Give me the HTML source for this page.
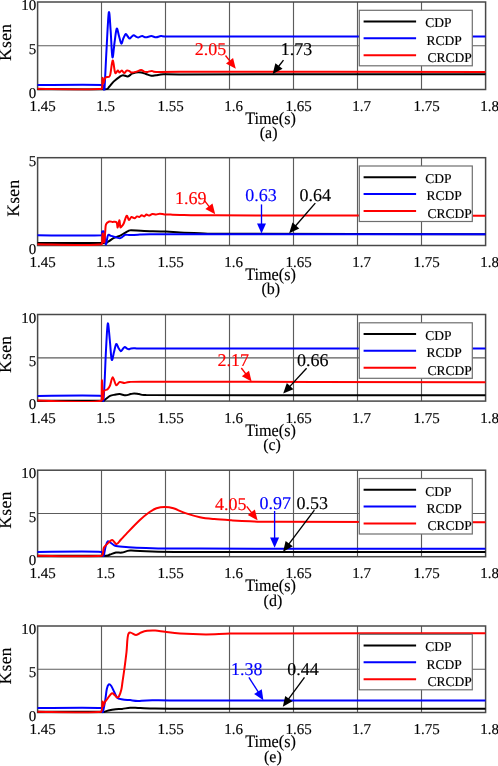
<!DOCTYPE html><html><head><meta charset="utf-8"><style>html,body{margin:0;padding:0;background:#fff;width:498px;height:766px;overflow:hidden}svg{display:block;will-change:transform}text{font-family:"Liberation Serif",serif;text-rendering:geometricPrecision;stroke:currentColor;stroke-width:0.15px}</style></head><body>
<svg width="498" height="766" viewBox="0 0 498 766">
<rect width="498" height="766" fill="#fff"/>
<defs><clipPath id="clipa"><rect x="37.00" y="0.00" width="449.00" height="90.50"/></clipPath></defs>
<g stroke="#5c5c5c" stroke-width="1.15"><line x1="101.50" y1="2.00" x2="101.50" y2="89.50"/><line x1="165.50" y1="2.00" x2="165.50" y2="89.50"/><line x1="229.50" y1="2.00" x2="229.50" y2="89.50"/><line x1="293.50" y1="2.00" x2="293.50" y2="89.50"/><line x1="357.50" y1="2.00" x2="357.50" y2="89.50"/><line x1="421.50" y1="2.00" x2="421.50" y2="89.50"/><line x1="37.50" y1="45.75" x2="485.50" y2="45.75"/></g>
<rect x="37.60" y="2.00" width="448.00" height="87.50" fill="none" stroke="#484848" stroke-width="1.5"/>
<g clip-path="url(#clipa)"><path d="M37.50,89.30 C48.83,89.30 93.58,89.68 105.50,89.30 C109.00,88.92 107.65,88.28 109.00,87.00 C110.35,85.72 111.83,83.30 113.60,81.60 C115.37,79.90 118.03,77.87 119.60,76.80 C121.17,75.73 121.63,75.27 123.00,75.20 C124.37,75.13 126.30,76.65 127.80,76.40 C129.30,76.15 130.68,74.35 132.00,73.70 C133.32,73.05 134.18,72.70 135.70,72.50 C137.22,72.30 139.40,72.25 141.10,72.50 C142.80,72.75 144.20,73.47 145.90,74.00 C147.60,74.53 149.60,75.50 151.30,75.70 C153.00,75.90 154.08,75.43 156.10,75.20 C158.12,74.97 159.42,74.43 163.40,74.30 C167.38,74.17 163.40,74.41 180.00,74.40 C233.68,74.39 434.58,74.28 485.50,74.25" fill="none" stroke="#000000" stroke-width="2.0" stroke-linejoin="round"/><path d="M37.50,85.00 C48.35,85.00 91.58,84.58 102.60,85.00 C103.60,85.42 103.28,86.90 103.60,87.50 C103.92,88.10 104.02,94.85 104.50,88.60 C104.98,82.35 105.78,62.68 106.50,50.00 C107.22,37.32 108.12,15.83 108.80,12.50 C109.48,9.17 110.00,22.53 110.60,30.00 C111.20,37.47 111.73,55.30 112.40,57.30 C113.07,59.30 113.88,46.78 114.60,42.00 C115.32,37.22 115.97,29.60 116.70,28.60 C117.43,27.60 118.23,33.50 119.00,36.00 C119.77,38.50 120.55,43.27 121.30,43.60 C122.05,43.93 122.75,39.60 123.50,38.00 C124.25,36.40 125.08,34.25 125.80,34.00 C126.52,33.75 127.15,35.73 127.80,36.50 C128.45,37.27 129.03,38.60 129.70,38.60 C130.37,38.60 131.12,37.05 131.80,36.50 C132.48,35.95 133.10,35.28 133.80,35.30 C134.50,35.32 135.27,36.23 136.00,36.60 C136.73,36.97 137.50,37.50 138.20,37.50 C138.90,37.50 139.52,36.85 140.20,36.60 C140.88,36.35 141.35,35.88 142.30,36.00 C143.25,36.12 144.40,37.28 145.90,37.30 C147.40,37.32 149.60,36.10 151.30,36.10 C153.00,36.10 154.48,37.30 156.10,37.30 C157.72,37.30 159.02,36.23 161.00,36.10 C162.98,35.97 161.00,36.43 168.00,36.50 C222.08,36.57 432.58,36.50 485.50,36.50" fill="none" stroke="#0000ff" stroke-width="2.0" stroke-linejoin="round"/><path d="M37.50,88.80 C48.25,88.80 91.15,90.60 102.00,88.80 C102.60,87.00 102.37,78.97 102.60,78.00 C102.83,77.03 103.07,82.80 103.40,83.00 C103.73,83.20 104.10,80.20 104.60,79.20 C105.10,78.20 105.50,77.62 106.40,77.00 C107.30,76.38 108.97,78.25 110.00,75.50 C111.03,72.75 111.80,61.17 112.60,60.50 C113.40,59.83 114.23,69.42 114.80,71.50 C115.37,73.58 115.50,73.17 116.00,73.00 C116.50,72.83 117.20,70.58 117.80,70.50 C118.40,70.42 118.93,72.52 119.60,72.50 C120.27,72.48 121.03,70.30 121.80,70.40 C122.57,70.50 123.40,73.05 124.20,73.10 C125.00,73.15 125.80,71.07 126.60,70.70 C127.40,70.33 128.20,70.60 129.00,70.90 C129.80,71.20 130.28,72.33 131.40,72.50 C132.52,72.67 134.08,72.30 135.70,71.90 C137.32,71.50 139.70,70.15 141.10,70.10 C142.50,70.05 143.00,71.30 144.10,71.60 C145.20,71.90 146.40,72.02 147.70,71.90 C149.00,71.78 150.50,70.90 151.90,70.90 C153.30,70.90 151.90,71.75 156.10,71.90 C160.78,72.05 156.10,71.80 180.00,71.80 C234.90,71.80 434.58,71.88 485.50,71.90" fill="none" stroke="#ff0000" stroke-width="2.0" stroke-linejoin="round"/></g>
<rect x="359.3" y="10.30" width="113" height="55.5" fill="#fff" stroke="#6e6e6e" stroke-width="1.2"/>
<line x1="363.6" y1="21.50" x2="416.1" y2="21.50" stroke="#000000" stroke-width="2"/>
<text x="425.30" y="27.35" font-size="13.5">CDP</text>
<line x1="363.6" y1="38.30" x2="416.1" y2="38.30" stroke="#0000ff" stroke-width="2"/>
<text x="426.60" y="44.70" font-size="13.5">RCDP</text>
<line x1="363.6" y1="55.20" x2="416.1" y2="55.20" stroke="#ff0000" stroke-width="2"/>
<text x="427.50" y="62.10" font-size="13.5">CRCDP</text>
<text x="194.68" y="54.90" font-size="18" fill="#ff0000" color="#ff0000">2.05</text>
<line x1="225.50" y1="55.50" x2="230.14" y2="61.45" stroke="#ff0000" stroke-width="1.35"/><polygon points="235.80,68.70 225.98,63.43 233.07,57.89" fill="#ff0000"/>
<text x="280.68" y="55.30" font-size="18" fill="#000000" color="#000000">1.73</text>
<line x1="283.50" y1="60.10" x2="278.34" y2="66.74" stroke="#000000" stroke-width="1.35"/><polygon points="272.70,74.00 275.40,63.18 282.51,68.71" fill="#000000"/>
<text x="36.3" y="97.70" font-size="15" text-anchor="end">0</text>
<text x="36.3" y="53.95" font-size="15" text-anchor="end">5</text>
<text x="36.3" y="10.20" font-size="15" text-anchor="end">10</text>
<text x="42.50" y="111.00" font-size="15" text-anchor="middle">1.45</text>
<text x="105.50" y="111.00" font-size="15" text-anchor="middle">1.5</text>
<text x="170.50" y="111.00" font-size="15" text-anchor="middle">1.55</text>
<text x="233.50" y="111.00" font-size="15" text-anchor="middle">1.6</text>
<text x="298.50" y="111.00" font-size="15" text-anchor="middle">1.65</text>
<text x="361.50" y="111.00" font-size="15" text-anchor="middle">1.7</text>
<text x="426.50" y="111.00" font-size="15" text-anchor="middle">1.75</text>
<text x="489.50" y="111.00" font-size="15" text-anchor="middle">1.8</text>
<text transform="translate(11.00,42.25) rotate(-90)" font-size="17.5" text-anchor="middle" letter-spacing="0.35">Ksen</text>
<text transform="translate(245.2,124.00) scale(1,1.08)" font-size="16.2">Time(s)</text>
<text transform="translate(268.60,138.40) scale(1,1.04)" font-size="16" text-anchor="middle">(a)</text>
<defs><clipPath id="clipb"><rect x="37.00" y="155.70" width="449.00" height="90.80"/></clipPath></defs>
<g stroke="#5c5c5c" stroke-width="1.15"><line x1="101.50" y1="157.70" x2="101.50" y2="245.50"/><line x1="165.50" y1="157.70" x2="165.50" y2="245.50"/><line x1="229.50" y1="157.70" x2="229.50" y2="245.50"/><line x1="293.50" y1="157.70" x2="293.50" y2="245.50"/><line x1="357.50" y1="157.70" x2="357.50" y2="245.50"/><line x1="421.50" y1="157.70" x2="421.50" y2="245.50"/></g>
<rect x="37.60" y="157.70" width="448.00" height="87.80" fill="none" stroke="#484848" stroke-width="1.5"/>
<g clip-path="url(#clipb)"><path d="M37.50,242.90 C48.78,242.90 93.38,243.13 105.20,242.90 C108.40,242.67 106.93,242.33 108.40,241.50 C109.87,240.67 112.12,238.83 114.00,237.90 C115.88,236.97 118.08,236.63 119.70,235.90 C121.32,235.17 122.23,234.33 123.70,233.50 C125.17,232.67 127.28,231.43 128.50,230.90 C129.72,230.37 128.50,230.30 131.00,230.30 C133.60,230.30 138.30,230.70 144.10,230.90 C149.90,231.10 159.82,231.23 165.80,231.50 C171.78,231.77 174.30,232.22 180.00,232.50 C185.70,232.78 191.67,232.98 200.00,233.20 C208.33,233.42 200.00,233.62 230.00,233.80 C277.58,233.98 442.92,234.22 485.50,234.30" fill="none" stroke="#000000" stroke-width="2.0" stroke-linejoin="round"/><path d="M37.50,235.30 C48.18,235.30 90.82,235.88 101.60,235.30 C102.20,234.72 101.80,232.35 102.20,231.80 C102.60,231.25 103.57,230.97 104.00,232.00 C104.43,233.03 104.47,235.93 104.80,238.00 C105.13,240.07 105.47,244.85 106.00,244.40 C106.53,243.95 107.18,236.72 108.00,235.30 C108.82,233.88 109.90,235.67 110.90,235.90 C111.90,236.13 112.98,236.42 114.00,236.70 C115.02,236.98 116.05,237.33 117.00,237.60 C117.95,237.87 118.85,238.38 119.70,238.30 C120.55,238.22 121.17,237.68 122.10,237.10 C123.03,236.52 123.97,235.13 125.30,234.80 C126.63,234.47 127.98,235.12 130.10,235.10 C132.22,235.08 134.68,234.83 138.00,234.70 C141.32,234.57 138.00,234.37 150.00,234.30 C207.92,234.23 429.58,234.30 485.50,234.30" fill="none" stroke="#0000ff" stroke-width="2.0" stroke-linejoin="round"/><path d="M37.50,244.20 C48.22,244.20 90.95,245.98 101.80,244.20 C102.60,242.42 102.33,234.20 102.60,233.50 C102.87,232.80 103.10,238.58 103.40,240.00 C103.70,241.42 104.10,243.33 104.40,242.00 C104.70,240.67 104.93,234.95 105.20,232.00 C105.47,229.05 105.33,226.05 106.00,224.30 C106.67,222.55 108.12,221.90 109.20,221.50 C110.28,221.10 111.28,221.77 112.50,221.90 C113.72,222.03 115.63,221.37 116.50,222.30 C117.37,223.23 117.23,227.83 117.70,227.50 C118.17,227.17 118.87,220.38 119.30,220.30 C119.73,220.22 119.97,225.93 120.30,227.00 C120.63,228.07 120.73,227.28 121.30,226.70 C121.87,226.12 122.82,225.32 123.70,223.50 C124.58,221.68 125.72,216.38 126.60,215.80 C127.48,215.22 128.20,219.80 129.00,220.00 C129.80,220.20 130.48,217.28 131.40,217.00 C132.32,216.72 133.58,218.40 134.50,218.30 C135.42,218.20 136.10,216.62 136.90,216.40 C137.70,216.18 138.50,217.20 139.30,217.00 C140.10,216.80 140.90,215.30 141.70,215.20 C142.50,215.10 143.30,216.50 144.10,216.40 C144.90,216.30 145.70,214.73 146.50,214.60 C147.30,214.47 147.90,215.70 148.90,215.60 C149.90,215.50 151.30,214.17 152.50,214.00 C153.70,213.83 154.88,214.65 156.10,214.60 C157.32,214.55 158.38,213.73 159.80,213.70 C161.22,213.67 162.80,214.25 164.60,214.40 C166.40,214.55 168.03,214.52 170.60,214.60 C173.17,214.68 172.60,214.78 180.00,214.90 C187.40,215.02 180.00,215.15 215.00,215.30 C265.92,215.45 440.42,215.72 485.50,215.80" fill="none" stroke="#ff0000" stroke-width="2.0" stroke-linejoin="round"/></g>
<rect x="359.3" y="166.00" width="113" height="55.5" fill="#fff" stroke="#6e6e6e" stroke-width="1.2"/>
<line x1="363.6" y1="177.20" x2="416.1" y2="177.20" stroke="#000000" stroke-width="2"/>
<text x="425.30" y="183.05" font-size="13.5">CDP</text>
<line x1="363.6" y1="194.00" x2="416.1" y2="194.00" stroke="#0000ff" stroke-width="2"/>
<text x="426.60" y="200.40" font-size="13.5">RCDP</text>
<line x1="363.6" y1="210.90" x2="416.1" y2="210.90" stroke="#ff0000" stroke-width="2"/>
<text x="427.50" y="217.80" font-size="13.5">CRCDP</text>
<text x="174.98" y="203.50" font-size="18" fill="#ff0000" color="#ff0000">1.69</text>
<line x1="204.90" y1="201.10" x2="209.54" y2="207.05" stroke="#ff0000" stroke-width="1.35"/><polygon points="215.20,214.30 205.38,209.03 212.47,203.49" fill="#ff0000"/>
<text x="245.28" y="201.10" font-size="18" fill="#0000ff" color="#0000ff">0.63</text>
<line x1="261.50" y1="204.40" x2="261.50" y2="224.40" stroke="#0000ff" stroke-width="1.35"/><polygon points="261.50,233.60 257.00,223.40 266.00,223.40" fill="#0000ff"/>
<text x="299.58" y="201.10" font-size="18" fill="#000000" color="#000000">0.64</text>
<line x1="315.30" y1="203.10" x2="295.23" y2="226.25" stroke="#000000" stroke-width="1.35"/><polygon points="289.20,233.20 292.48,222.55 299.28,228.44" fill="#000000"/>
<text x="36.3" y="253.70" font-size="15" text-anchor="end">0</text>
<text x="36.3" y="165.90" font-size="15" text-anchor="end">5</text>
<text x="42.50" y="267.00" font-size="15" text-anchor="middle">1.45</text>
<text x="105.50" y="267.00" font-size="15" text-anchor="middle">1.5</text>
<text x="170.50" y="267.00" font-size="15" text-anchor="middle">1.55</text>
<text x="233.50" y="267.00" font-size="15" text-anchor="middle">1.6</text>
<text x="298.50" y="267.00" font-size="15" text-anchor="middle">1.65</text>
<text x="361.50" y="267.00" font-size="15" text-anchor="middle">1.7</text>
<text x="426.50" y="267.00" font-size="15" text-anchor="middle">1.75</text>
<text x="489.50" y="267.00" font-size="15" text-anchor="middle">1.8</text>
<text transform="translate(19.40,198.10) rotate(-90)" font-size="17.5" text-anchor="middle" letter-spacing="0.35">Ksen</text>
<text transform="translate(245.2,280.00) scale(1,1.08)" font-size="16.2">Time(s)</text>
<text transform="translate(270.75,294.40) scale(1,1.04)" font-size="16" text-anchor="middle">(b)</text>
<defs><clipPath id="clipc"><rect x="37.00" y="312.50" width="449.00" height="89.60"/></clipPath></defs>
<g stroke="#5c5c5c" stroke-width="1.15"><line x1="101.50" y1="314.50" x2="101.50" y2="401.10"/><line x1="165.50" y1="314.50" x2="165.50" y2="401.10"/><line x1="229.50" y1="314.50" x2="229.50" y2="401.10"/><line x1="293.50" y1="314.50" x2="293.50" y2="401.10"/><line x1="357.50" y1="314.50" x2="357.50" y2="401.10"/><line x1="421.50" y1="314.50" x2="421.50" y2="401.10"/><line x1="37.50" y1="357.80" x2="485.50" y2="357.80"/></g>
<rect x="37.60" y="314.50" width="448.00" height="86.60" fill="none" stroke="#484848" stroke-width="1.5"/>
<g clip-path="url(#clipc)"><path d="M37.50,400.70 C48.38,400.70 91.52,400.90 102.80,400.70 C105.20,400.50 104.00,400.30 105.20,399.50 C106.40,398.70 108.38,396.70 110.00,395.90 C111.62,395.10 113.28,395.00 114.90,394.70 C116.52,394.40 117.90,394.00 119.70,394.10 C121.50,394.20 123.90,395.30 125.70,395.30 C127.50,395.30 129.10,394.40 130.50,394.10 C131.90,393.80 132.68,393.50 134.10,393.50 C135.52,393.50 136.98,393.83 139.00,394.10 C141.02,394.37 139.00,394.90 146.20,395.10 C203.95,395.30 428.95,395.27 485.50,395.30" fill="none" stroke="#000000" stroke-width="2.0" stroke-linejoin="round"/><path d="M37.50,395.90 C48.28,395.90 91.22,395.13 102.20,395.90 C103.40,396.67 103.00,402.82 103.40,400.50 C103.80,398.18 104.17,390.42 104.60,382.00 C105.03,373.58 105.47,359.75 106.00,350.00 C106.53,340.25 107.17,325.17 107.80,323.50 C108.43,321.83 109.15,333.97 109.80,340.00 C110.45,346.03 111.00,357.70 111.70,359.70 C112.40,361.70 113.25,354.62 114.00,352.00 C114.75,349.38 115.45,344.67 116.20,344.00 C116.95,343.33 117.73,346.80 118.50,348.00 C119.27,349.20 120.08,351.03 120.80,351.20 C121.52,351.37 122.13,349.70 122.80,349.00 C123.47,348.30 124.13,347.08 124.80,347.00 C125.47,346.92 126.13,348.12 126.80,348.50 C127.47,348.88 128.10,349.32 128.80,349.30 C129.50,349.28 130.13,348.58 131.00,348.40 C131.87,348.22 132.50,348.18 134.00,348.20 C135.50,348.22 134.00,348.45 140.00,348.50 C198.58,348.55 427.92,348.50 485.50,348.50" fill="none" stroke="#0000ff" stroke-width="2.0" stroke-linejoin="round"/><path d="M37.50,400.60 C48.18,400.60 90.87,404.00 101.60,400.60 C101.90,397.20 101.70,380.47 101.90,380.20 C102.10,379.93 102.45,397.18 102.80,399.00 C103.15,400.82 103.20,392.72 104.00,391.10 C104.80,389.48 106.60,390.20 107.60,389.30 C108.60,388.40 109.15,387.72 110.00,385.70 C110.85,383.68 111.68,377.30 112.70,377.20 C113.72,377.10 114.93,384.30 116.10,385.10 C117.27,385.90 118.30,382.35 119.70,382.00 C121.10,381.65 122.90,383.00 124.50,383.00 C126.10,383.00 126.08,382.22 129.30,382.00 C132.52,381.78 129.30,381.67 143.80,381.70 C203.17,381.73 428.55,382.12 485.50,382.20" fill="none" stroke="#ff0000" stroke-width="2.0" stroke-linejoin="round"/></g>
<rect x="359.3" y="322.80" width="113" height="55.5" fill="#fff" stroke="#6e6e6e" stroke-width="1.2"/>
<line x1="363.6" y1="334.00" x2="416.1" y2="334.00" stroke="#000000" stroke-width="2"/>
<text x="425.30" y="339.85" font-size="13.5">CDP</text>
<line x1="363.6" y1="350.80" x2="416.1" y2="350.80" stroke="#0000ff" stroke-width="2"/>
<text x="426.60" y="357.20" font-size="13.5">RCDP</text>
<line x1="363.6" y1="367.70" x2="416.1" y2="367.70" stroke="#ff0000" stroke-width="2"/>
<text x="427.50" y="374.60" font-size="13.5">CRCDP</text>
<text x="217.48" y="366.30" font-size="18" fill="#ff0000" color="#ff0000">2.17</text>
<line x1="241.30" y1="368.00" x2="246.05" y2="374.27" stroke="#ff0000" stroke-width="1.35"/><polygon points="251.60,381.60 241.85,376.19 249.03,370.75" fill="#ff0000"/>
<text x="296.98" y="366.30" font-size="18" fill="#000000" color="#000000">0.66</text>
<line x1="306.60" y1="368.30" x2="289.45" y2="386.85" stroke="#000000" stroke-width="1.35"/><polygon points="283.20,393.60 286.82,383.06 293.43,389.17" fill="#000000"/>
<text x="36.3" y="409.30" font-size="15" text-anchor="end">0</text>
<text x="36.3" y="366.00" font-size="15" text-anchor="end">5</text>
<text x="36.3" y="322.70" font-size="15" text-anchor="end">10</text>
<text x="42.50" y="422.60" font-size="15" text-anchor="middle">1.45</text>
<text x="105.50" y="422.60" font-size="15" text-anchor="middle">1.5</text>
<text x="170.50" y="422.60" font-size="15" text-anchor="middle">1.55</text>
<text x="233.50" y="422.60" font-size="15" text-anchor="middle">1.6</text>
<text x="298.50" y="422.60" font-size="15" text-anchor="middle">1.65</text>
<text x="361.50" y="422.60" font-size="15" text-anchor="middle">1.7</text>
<text x="426.50" y="422.60" font-size="15" text-anchor="middle">1.75</text>
<text x="489.50" y="422.60" font-size="15" text-anchor="middle">1.8</text>
<text transform="translate(11.00,354.30) rotate(-90)" font-size="17.5" text-anchor="middle" letter-spacing="0.35">Ksen</text>
<text transform="translate(245.2,435.60) scale(1,1.08)" font-size="16.2">Time(s)</text>
<text transform="translate(272.00,450.00) scale(1,1.04)" font-size="16" text-anchor="middle">(c)</text>
<defs><clipPath id="clipd"><rect x="37.00" y="468.20" width="449.00" height="89.50"/></clipPath></defs>
<g stroke="#5c5c5c" stroke-width="1.15"><line x1="101.50" y1="470.20" x2="101.50" y2="556.70"/><line x1="165.50" y1="470.20" x2="165.50" y2="556.70"/><line x1="229.50" y1="470.20" x2="229.50" y2="556.70"/><line x1="293.50" y1="470.20" x2="293.50" y2="556.70"/><line x1="357.50" y1="470.20" x2="357.50" y2="556.70"/><line x1="421.50" y1="470.20" x2="421.50" y2="556.70"/><line x1="37.50" y1="513.45" x2="485.50" y2="513.45"/></g>
<rect x="37.60" y="470.20" width="448.00" height="86.50" fill="none" stroke="#484848" stroke-width="1.5"/>
<g clip-path="url(#clipd)"><path d="M37.50,555.70 C48.92,555.70 93.92,555.90 106.00,555.70 C110.00,555.50 108.33,555.02 110.00,554.50 C111.67,553.98 114.00,552.92 116.00,552.60 C118.00,552.28 119.65,552.93 122.00,552.60 C124.35,552.27 126.10,550.83 130.10,550.60 C134.10,550.37 134.35,550.98 146.00,551.20 C157.65,551.42 146.00,551.75 200.00,551.90 C256.58,552.05 437.92,552.07 485.50,552.10" fill="none" stroke="#000000" stroke-width="2.0" stroke-linejoin="round"/><path d="M37.50,551.90 C48.17,551.90 90.50,551.22 101.50,551.90 C103.50,552.58 102.83,556.82 103.50,556.00 C104.17,555.18 104.83,549.40 105.50,547.00 C106.17,544.60 106.75,542.37 107.50,541.60 C108.25,540.83 109.08,541.92 110.00,542.40 C110.92,542.88 112.00,543.88 113.00,544.50 C114.00,545.12 113.83,545.67 116.00,546.10 C118.17,546.53 121.00,546.78 126.00,547.10 C131.00,547.42 133.67,547.75 146.00,548.00 C158.33,548.25 146.00,548.48 200.00,548.60 C256.58,548.72 437.92,548.68 485.50,548.70" fill="none" stroke="#0000ff" stroke-width="2.0" stroke-linejoin="round"/><path d="M37.50,555.80 C48.22,555.80 90.80,556.93 101.80,555.80 C103.50,554.67 103.10,550.45 103.50,549.00 C103.90,547.55 103.62,547.92 104.20,547.10 C104.78,546.28 106.03,545.08 107.00,544.10 C107.97,543.12 109.07,541.87 110.00,541.20 C110.93,540.53 111.50,539.62 112.60,540.10 C113.70,540.58 115.20,544.20 116.60,544.10 C118.00,544.00 119.42,541.17 121.00,539.50 C122.58,537.83 123.00,537.30 126.10,534.10 C129.20,530.90 135.73,523.93 139.60,520.30 C143.47,516.67 146.48,514.30 149.30,512.30 C152.12,510.30 153.90,509.18 156.50,508.30 C159.10,507.42 162.08,507.00 164.90,507.00 C167.72,507.00 169.98,507.28 173.40,508.30 C176.82,509.32 180.98,511.62 185.40,513.10 C189.82,514.58 195.08,516.20 199.90,517.20 C204.72,518.20 209.08,518.58 214.30,519.10 C219.52,519.62 225.25,519.95 231.20,520.30 C237.15,520.65 241.87,520.95 250.00,521.20 C258.13,521.45 250.00,521.63 280.00,521.80 C319.25,521.97 451.25,522.13 485.50,522.20" fill="none" stroke="#ff0000" stroke-width="2.0" stroke-linejoin="round"/></g>
<rect x="359.3" y="478.50" width="113" height="55.5" fill="#fff" stroke="#6e6e6e" stroke-width="1.2"/>
<line x1="363.6" y1="489.70" x2="416.1" y2="489.70" stroke="#000000" stroke-width="2"/>
<text x="425.30" y="495.55" font-size="13.5">CDP</text>
<line x1="363.6" y1="506.50" x2="416.1" y2="506.50" stroke="#0000ff" stroke-width="2"/>
<text x="426.60" y="512.90" font-size="13.5">RCDP</text>
<line x1="363.6" y1="523.40" x2="416.1" y2="523.40" stroke="#ff0000" stroke-width="2"/>
<text x="427.50" y="530.30" font-size="13.5">CRCDP</text>
<text x="215.08" y="510.10" font-size="18" fill="#ff0000" color="#ff0000">4.05</text>
<line x1="246.70" y1="506.40" x2="251.92" y2="513.06" stroke="#ff0000" stroke-width="1.35"/><polygon points="257.60,520.30 247.76,515.05 254.85,509.50" fill="#ff0000"/>
<text x="259.58" y="509.00" font-size="18" fill="#0000ff" color="#0000ff">0.97</text>
<line x1="274.60" y1="510.90" x2="274.60" y2="538.60" stroke="#0000ff" stroke-width="1.35"/><polygon points="274.60,547.80 270.10,537.60 279.10,537.60" fill="#0000ff"/>
<text x="296.38" y="509.00" font-size="18" fill="#000000" color="#000000">0.53</text>
<line x1="314.40" y1="510.10" x2="288.62" y2="544.44" stroke="#000000" stroke-width="1.35"/><polygon points="283.10,551.80 285.62,540.94 292.82,546.34" fill="#000000"/>
<text x="36.3" y="564.90" font-size="15" text-anchor="end">0</text>
<text x="36.3" y="521.65" font-size="15" text-anchor="end">5</text>
<text x="36.3" y="478.40" font-size="15" text-anchor="end">10</text>
<text x="42.50" y="578.20" font-size="15" text-anchor="middle">1.45</text>
<text x="105.50" y="578.20" font-size="15" text-anchor="middle">1.5</text>
<text x="170.50" y="578.20" font-size="15" text-anchor="middle">1.55</text>
<text x="233.50" y="578.20" font-size="15" text-anchor="middle">1.6</text>
<text x="298.50" y="578.20" font-size="15" text-anchor="middle">1.65</text>
<text x="361.50" y="578.20" font-size="15" text-anchor="middle">1.7</text>
<text x="426.50" y="578.20" font-size="15" text-anchor="middle">1.75</text>
<text x="489.50" y="578.20" font-size="15" text-anchor="middle">1.8</text>
<text transform="translate(11.00,509.95) rotate(-90)" font-size="17.5" text-anchor="middle" letter-spacing="0.35">Ksen</text>
<text transform="translate(245.2,591.20) scale(1,1.08)" font-size="16.2">Time(s)</text>
<text transform="translate(272.90,605.60) scale(1,1.04)" font-size="16" text-anchor="middle">(d)</text>
<defs><clipPath id="clipe"><rect x="37.00" y="624.00" width="449.00" height="89.50"/></clipPath></defs>
<g stroke="#5c5c5c" stroke-width="1.15"><line x1="101.50" y1="626.00" x2="101.50" y2="712.50"/><line x1="165.50" y1="626.00" x2="165.50" y2="712.50"/><line x1="229.50" y1="626.00" x2="229.50" y2="712.50"/><line x1="293.50" y1="626.00" x2="293.50" y2="712.50"/><line x1="357.50" y1="626.00" x2="357.50" y2="712.50"/><line x1="421.50" y1="626.00" x2="421.50" y2="712.50"/><line x1="37.50" y1="669.25" x2="485.50" y2="669.25"/></g>
<rect x="37.60" y="626.00" width="448.00" height="86.50" fill="none" stroke="#484848" stroke-width="1.5"/>
<g clip-path="url(#clipe)"><path d="M37.50,711.80 C48.38,711.80 91.65,711.78 102.80,711.80 C104.40,711.82 103.47,712.12 104.40,711.90 C105.33,711.68 106.52,710.95 108.40,710.50 C110.28,710.05 113.42,709.47 115.70,709.20 C117.98,708.93 119.70,709.15 122.10,708.90 C124.50,708.65 127.45,707.87 130.10,707.70 C132.75,707.53 134.68,707.78 138.00,707.90 C141.32,708.02 139.67,708.27 150.00,708.40 C160.33,708.53 150.00,708.63 200.00,708.70 C255.92,708.77 437.92,708.78 485.50,708.80" fill="none" stroke="#000000" stroke-width="2.0" stroke-linejoin="round"/><path d="M37.50,708.00 C48.18,708.00 90.72,707.33 101.60,708.00 C102.80,708.67 102.20,713.25 102.80,712.00 C103.40,710.75 104.53,704.33 105.20,700.50 C105.87,696.67 106.20,691.70 106.80,689.00 C107.40,686.30 108.05,684.80 108.80,684.30 C109.55,683.80 110.42,684.77 111.30,686.00 C112.18,687.23 113.17,689.82 114.10,691.70 C115.03,693.58 115.97,696.10 116.90,697.30 C117.83,698.50 118.43,698.50 119.70,698.90 C120.97,699.30 122.77,699.50 124.50,699.70 C126.23,699.90 127.85,699.90 130.10,700.10 C132.35,700.30 134.32,700.87 138.00,700.90 C141.68,700.93 141.87,700.35 152.20,700.30 C162.53,700.25 152.20,700.55 200.00,700.60 C255.55,700.65 437.92,700.60 485.50,700.60" fill="none" stroke="#0000ff" stroke-width="2.0" stroke-linejoin="round"/><path d="M37.50,711.70 C48.12,711.70 90.35,713.37 101.20,711.70 C102.60,710.03 102.27,702.65 102.60,701.70 C102.93,700.75 102.90,705.80 103.20,706.00 C103.50,706.20 103.67,704.15 104.40,702.90 C105.13,701.65 106.38,700.10 107.60,698.50 C108.82,696.90 110.55,693.90 111.70,693.30 C112.85,692.70 113.63,694.23 114.50,694.90 C115.37,695.57 116.17,697.03 116.90,697.30 C117.63,697.57 118.17,697.77 118.90,696.50 C119.63,695.23 120.70,692.12 121.30,689.70 C121.90,687.28 121.97,685.58 122.50,682.00 C123.03,678.42 123.83,673.18 124.50,668.20 C125.17,663.22 125.82,657.88 126.50,652.10 C127.18,646.32 127.00,636.35 128.60,633.50 C130.20,630.65 134.02,635.17 136.10,635.00 C138.18,634.83 139.27,633.20 141.10,632.50 C142.93,631.80 144.75,631.13 147.10,630.80 C149.45,630.47 152.22,630.33 155.20,630.50 C158.18,630.67 160.87,631.28 165.00,631.80 C169.13,632.32 173.17,633.17 180.00,633.60 C186.83,634.03 197.67,634.40 206.00,634.40 C214.33,634.40 221.00,633.77 230.00,633.60 C239.00,633.43 230.00,633.47 260.00,633.40 C302.58,633.33 447.92,633.23 485.50,633.20" fill="none" stroke="#ff0000" stroke-width="2.0" stroke-linejoin="round"/></g>
<rect x="359.3" y="634.30" width="113" height="55.5" fill="#fff" stroke="#6e6e6e" stroke-width="1.2"/>
<line x1="363.6" y1="645.50" x2="416.1" y2="645.50" stroke="#000000" stroke-width="2"/>
<text x="425.30" y="651.35" font-size="13.5">CDP</text>
<line x1="363.6" y1="662.30" x2="416.1" y2="662.30" stroke="#0000ff" stroke-width="2"/>
<text x="426.60" y="668.70" font-size="13.5">RCDP</text>
<line x1="363.6" y1="679.20" x2="416.1" y2="679.20" stroke="#ff0000" stroke-width="2"/>
<text x="427.50" y="686.10" font-size="13.5">CRCDP</text>
<text x="231.08" y="674.90" font-size="18" fill="#0000ff" color="#0000ff">1.38</text>
<line x1="248.90" y1="677.30" x2="258.48" y2="692.43" stroke="#0000ff" stroke-width="1.35"/><polygon points="263.40,700.20 254.14,693.99 261.75,689.17" fill="#0000ff"/>
<text x="287.28" y="674.90" font-size="18" fill="#000000" color="#000000">0.44</text>
<line x1="304.50" y1="677.30" x2="288.25" y2="699.39" stroke="#000000" stroke-width="1.35"/><polygon points="282.80,706.80 285.22,695.92 292.47,701.25" fill="#000000"/>
<text x="36.3" y="720.70" font-size="15" text-anchor="end">0</text>
<text x="36.3" y="677.45" font-size="15" text-anchor="end">5</text>
<text x="36.3" y="634.20" font-size="15" text-anchor="end">10</text>
<text x="42.50" y="734.00" font-size="15" text-anchor="middle">1.45</text>
<text x="105.50" y="734.00" font-size="15" text-anchor="middle">1.5</text>
<text x="170.50" y="734.00" font-size="15" text-anchor="middle">1.55</text>
<text x="233.50" y="734.00" font-size="15" text-anchor="middle">1.6</text>
<text x="298.50" y="734.00" font-size="15" text-anchor="middle">1.65</text>
<text x="361.50" y="734.00" font-size="15" text-anchor="middle">1.7</text>
<text x="426.50" y="734.00" font-size="15" text-anchor="middle">1.75</text>
<text x="489.50" y="734.00" font-size="15" text-anchor="middle">1.8</text>
<text transform="translate(11.00,665.75) rotate(-90)" font-size="17.5" text-anchor="middle" letter-spacing="0.35">Ksen</text>
<text transform="translate(245.2,747.00) scale(1,1.08)" font-size="16.2">Time(s)</text>
<text transform="translate(272.90,762.40) scale(1,1.04)" font-size="16" text-anchor="middle">(e)</text>
</svg></body></html>
